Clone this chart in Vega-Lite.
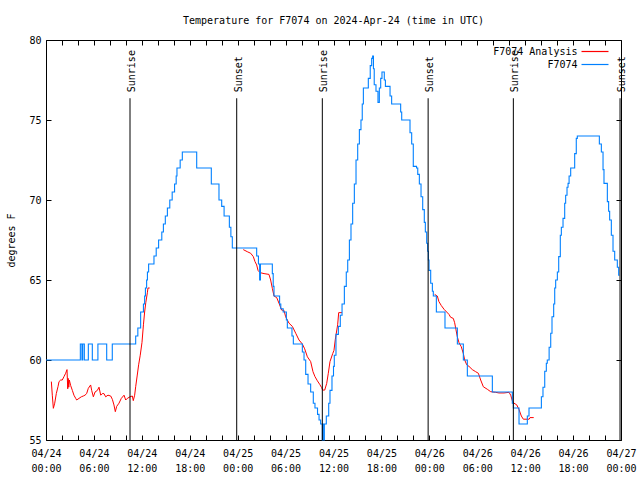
{
  "$schema": "https://vega.github.io/schema/vega-lite/v6.json",
  "width": 575,
  "height": 400,
  "autosize": {"type": "none"},
  "padding": {"left": 46, "top": 40, "right": 19, "bottom": 40},
  "background": "white",
  "title": {"text": "Temperature for F7074 on 2024-Apr-24 (time in UTC)", "font": "DejaVu Sans Mono", "fontSize": 10, "fontWeight": "normal", "color": "black", "anchor": "middle", "offset": 9},
  "config": {"view": {"stroke": null}, "font": "DejaVu Sans Mono"},
  "datasets": {
    "analysis": [
      {"series": "F7074 Analysis", "segment": 1, "hour": 0.67, "degF": 58.65},
      {"series": "F7074 Analysis", "segment": 1, "hour": 0.79, "degF": 57.8},
      {"series": "F7074 Analysis", "segment": 1, "hour": 0.92, "degF": 56.98},
      {"series": "F7074 Analysis", "segment": 1, "hour": 1.09, "degF": 57.3},
      {"series": "F7074 Analysis", "segment": 1, "hour": 1.29, "degF": 57.9},
      {"series": "F7074 Analysis", "segment": 1, "hour": 1.5, "degF": 58.33},
      {"series": "F7074 Analysis", "segment": 1, "hour": 1.63, "degF": 58.65},
      {"series": "F7074 Analysis", "segment": 1, "hour": 1.84, "degF": 58.75},
      {"series": "F7074 Analysis", "segment": 1, "hour": 2.04, "degF": 58.75},
      {"series": "F7074 Analysis", "segment": 1, "hour": 2.25, "degF": 58.96},
      {"series": "F7074 Analysis", "segment": 1, "hour": 2.46, "degF": 59.17},
      {"series": "F7074 Analysis", "segment": 1, "hour": 2.63, "degF": 59.4},
      {"series": "F7074 Analysis", "segment": 1, "hour": 2.72, "degF": 58.2},
      {"series": "F7074 Analysis", "segment": 1, "hour": 2.78, "degF": 58.85},
      {"series": "F7074 Analysis", "segment": 1, "hour": 2.85, "degF": 58.3},
      {"series": "F7074 Analysis", "segment": 1, "hour": 2.92, "degF": 58.75},
      {"series": "F7074 Analysis", "segment": 1, "hour": 3.09, "degF": 58.4},
      {"series": "F7074 Analysis", "segment": 1, "hour": 3.3, "degF": 58.1},
      {"series": "F7074 Analysis", "segment": 1, "hour": 3.5, "degF": 57.8},
      {"series": "F7074 Analysis", "segment": 1, "hour": 3.72, "degF": 57.6},
      {"series": "F7074 Analysis", "segment": 1, "hour": 3.84, "degF": 57.5},
      {"series": "F7074 Analysis", "segment": 1, "hour": 4.13, "degF": 57.6},
      {"series": "F7074 Analysis", "segment": 1, "hour": 4.42, "degF": 57.7},
      {"series": "F7074 Analysis", "segment": 1, "hour": 4.67, "degF": 57.75},
      {"series": "F7074 Analysis", "segment": 1, "hour": 4.88, "degF": 57.8},
      {"series": "F7074 Analysis", "segment": 1, "hour": 5.09, "degF": 57.9},
      {"series": "F7074 Analysis", "segment": 1, "hour": 5.3, "degF": 58.23},
      {"series": "F7074 Analysis", "segment": 1, "hour": 5.59, "degF": 58.44},
      {"series": "F7074 Analysis", "segment": 1, "hour": 5.72, "degF": 58.1},
      {"series": "F7074 Analysis", "segment": 1, "hour": 5.93, "degF": 57.7},
      {"series": "F7074 Analysis", "segment": 1, "hour": 6.14, "degF": 58.0},
      {"series": "F7074 Analysis", "segment": 1, "hour": 6.43, "degF": 58.1},
      {"series": "F7074 Analysis", "segment": 1, "hour": 6.64, "degF": 58.3},
      {"series": "F7074 Analysis", "segment": 1, "hour": 6.85, "degF": 57.8},
      {"series": "F7074 Analysis", "segment": 1, "hour": 7.05, "degF": 57.9},
      {"series": "F7074 Analysis", "segment": 1, "hour": 7.26, "degF": 57.9},
      {"series": "F7074 Analysis", "segment": 1, "hour": 7.47, "degF": 57.7},
      {"series": "F7074 Analysis", "segment": 1, "hour": 7.76, "degF": 57.8},
      {"series": "F7074 Analysis", "segment": 1, "hour": 8.1, "degF": 57.75},
      {"series": "F7074 Analysis", "segment": 1, "hour": 8.31, "degF": 57.54},
      {"series": "F7074 Analysis", "segment": 1, "hour": 8.51, "degF": 57.19},
      {"series": "F7074 Analysis", "segment": 1, "hour": 8.68, "degF": 56.77},
      {"series": "F7074 Analysis", "segment": 1, "hour": 8.85, "degF": 57.1},
      {"series": "F7074 Analysis", "segment": 1, "hour": 9.14, "degF": 57.3},
      {"series": "F7074 Analysis", "segment": 1, "hour": 9.43, "degF": 57.6},
      {"series": "F7074 Analysis", "segment": 1, "hour": 9.77, "degF": 57.8},
      {"series": "F7074 Analysis", "segment": 1, "hour": 9.98, "degF": 57.5},
      {"series": "F7074 Analysis", "segment": 1, "hour": 10.18, "degF": 57.6},
      {"series": "F7074 Analysis", "segment": 1, "hour": 10.52, "degF": 57.7},
      {"series": "F7074 Analysis", "segment": 1, "hour": 10.81, "degF": 57.75},
      {"series": "F7074 Analysis", "segment": 1, "hour": 10.93, "degF": 57.46},
      {"series": "F7074 Analysis", "segment": 1, "hour": 11.1, "degF": 57.8},
      {"series": "F7074 Analysis", "segment": 1, "hour": 11.23, "degF": 58.33},
      {"series": "F7074 Analysis", "segment": 1, "hour": 11.43, "degF": 59.06},
      {"series": "F7074 Analysis", "segment": 1, "hour": 11.6, "degF": 59.7},
      {"series": "F7074 Analysis", "segment": 1, "hour": 11.8, "degF": 60.3},
      {"series": "F7074 Analysis", "segment": 1, "hour": 12.02, "degF": 61.1},
      {"series": "F7074 Analysis", "segment": 1, "hour": 12.2, "degF": 62.2},
      {"series": "F7074 Analysis", "segment": 1, "hour": 12.35, "degF": 63.0},
      {"series": "F7074 Analysis", "segment": 1, "hour": 12.5, "degF": 63.6},
      {"series": "F7074 Analysis", "segment": 1, "hour": 12.69, "degF": 64.2},
      {"series": "F7074 Analysis", "segment": 1, "hour": 12.77, "degF": 64.5},
      {"series": "F7074 Analysis", "segment": 1, "hour": 12.98, "degF": 64.5},
      {"series": "F7074 Analysis", "segment": 2, "hour": 24.7, "degF": 66.9},
      {"series": "F7074 Analysis", "segment": 2, "hour": 25.2, "degF": 66.77},
      {"series": "F7074 Analysis", "segment": 2, "hour": 25.63, "degF": 66.67},
      {"series": "F7074 Analysis", "segment": 2, "hour": 25.96, "degF": 66.46},
      {"series": "F7074 Analysis", "segment": 2, "hour": 26.17, "degF": 66.15},
      {"series": "F7074 Analysis", "segment": 2, "hour": 26.38, "degF": 65.94},
      {"series": "F7074 Analysis", "segment": 2, "hour": 26.55, "degF": 65.6},
      {"series": "F7074 Analysis", "segment": 2, "hour": 26.8, "degF": 65.46},
      {"series": "F7074 Analysis", "segment": 2, "hour": 27.3, "degF": 65.4},
      {"series": "F7074 Analysis", "segment": 2, "hour": 27.92, "degF": 65.35},
      {"series": "F7074 Analysis", "segment": 2, "hour": 28.13, "degF": 65.0},
      {"series": "F7074 Analysis", "segment": 2, "hour": 28.34, "degF": 64.48},
      {"series": "F7074 Analysis", "segment": 2, "hour": 28.55, "degF": 64.0},
      {"series": "F7074 Analysis", "segment": 2, "hour": 28.89, "degF": 63.9},
      {"series": "F7074 Analysis", "segment": 2, "hour": 29.18, "degF": 63.54},
      {"series": "F7074 Analysis", "segment": 2, "hour": 29.51, "degF": 63.12},
      {"series": "F7074 Analysis", "segment": 2, "hour": 29.8, "degF": 63.1},
      {"series": "F7074 Analysis", "segment": 2, "hour": 30.01, "degF": 62.7},
      {"series": "F7074 Analysis", "segment": 2, "hour": 30.43, "degF": 62.3},
      {"series": "F7074 Analysis", "segment": 2, "hour": 30.85, "degF": 62.1},
      {"series": "F7074 Analysis", "segment": 2, "hour": 31.27, "degF": 61.67},
      {"series": "F7074 Analysis", "segment": 2, "hour": 31.68, "degF": 61.25},
      {"series": "F7074 Analysis", "segment": 2, "hour": 32.1, "degF": 61.0},
      {"series": "F7074 Analysis", "segment": 2, "hour": 32.39, "degF": 60.7},
      {"series": "F7074 Analysis", "segment": 2, "hour": 32.73, "degF": 60.2},
      {"series": "F7074 Analysis", "segment": 2, "hour": 33.14, "degF": 59.9},
      {"series": "F7074 Analysis", "segment": 2, "hour": 33.43, "degF": 59.27},
      {"series": "F7074 Analysis", "segment": 2, "hour": 33.68, "degF": 58.96},
      {"series": "F7074 Analysis", "segment": 2, "hour": 33.98, "degF": 58.7},
      {"series": "F7074 Analysis", "segment": 2, "hour": 34.27, "degF": 58.48},
      {"series": "F7074 Analysis", "segment": 2, "hour": 34.52, "degF": 58.27},
      {"series": "F7074 Analysis", "segment": 2, "hour": 34.64, "degF": 58.12},
      {"series": "F7074 Analysis", "segment": 2, "hour": 34.9, "degF": 58.12},
      {"series": "F7074 Analysis", "segment": 2, "hour": 35.15, "degF": 58.54},
      {"series": "F7074 Analysis", "segment": 2, "hour": 35.35, "degF": 59.17},
      {"series": "F7074 Analysis", "segment": 2, "hour": 35.56, "degF": 59.9},
      {"series": "F7074 Analysis", "segment": 2, "hour": 35.9, "degF": 60.4},
      {"series": "F7074 Analysis", "segment": 2, "hour": 36.06, "degF": 60.6},
      {"series": "F7074 Analysis", "segment": 2, "hour": 36.23, "degF": 61.3},
      {"series": "F7074 Analysis", "segment": 2, "hour": 36.52, "degF": 62.2},
      {"series": "F7074 Analysis", "segment": 2, "hour": 36.65, "degF": 62.96},
      {"series": "F7074 Analysis", "segment": 2, "hour": 37.07, "degF": 62.96},
      {"series": "F7074 Analysis", "segment": 3, "hour": 48.67, "degF": 64.1},
      {"series": "F7074 Analysis", "segment": 3, "hour": 49.0, "degF": 64.0},
      {"series": "F7074 Analysis", "segment": 3, "hour": 49.2, "degF": 63.65},
      {"series": "F7074 Analysis", "segment": 3, "hour": 49.5, "degF": 63.4},
      {"series": "F7074 Analysis", "segment": 3, "hour": 49.84, "degF": 63.17},
      {"series": "F7074 Analysis", "segment": 3, "hour": 50.17, "degF": 63.0},
      {"series": "F7074 Analysis", "segment": 3, "hour": 50.46, "degF": 62.85},
      {"series": "F7074 Analysis", "segment": 3, "hour": 50.67, "degF": 62.67},
      {"series": "F7074 Analysis", "segment": 3, "hour": 51.0, "degF": 62.6},
      {"series": "F7074 Analysis", "segment": 3, "hour": 51.17, "degF": 62.33},
      {"series": "F7074 Analysis", "segment": 3, "hour": 51.34, "degF": 61.88},
      {"series": "F7074 Analysis", "segment": 3, "hour": 51.5, "degF": 61.46},
      {"series": "F7074 Analysis", "segment": 3, "hour": 51.72, "degF": 61.08},
      {"series": "F7074 Analysis", "segment": 3, "hour": 52.0, "degF": 60.83},
      {"series": "F7074 Analysis", "segment": 3, "hour": 52.26, "degF": 60.4},
      {"series": "F7074 Analysis", "segment": 3, "hour": 52.43, "degF": 60.0},
      {"series": "F7074 Analysis", "segment": 3, "hour": 52.68, "degF": 59.7},
      {"series": "F7074 Analysis", "segment": 3, "hour": 52.97, "degF": 59.6},
      {"series": "F7074 Analysis", "segment": 3, "hour": 53.38, "degF": 59.4},
      {"series": "F7074 Analysis", "segment": 3, "hour": 53.8, "degF": 59.27},
      {"series": "F7074 Analysis", "segment": 3, "hour": 54.14, "degF": 59.17},
      {"series": "F7074 Analysis", "segment": 3, "hour": 54.43, "degF": 58.75},
      {"series": "F7074 Analysis", "segment": 3, "hour": 54.76, "degF": 58.33},
      {"series": "F7074 Analysis", "segment": 3, "hour": 55.26, "degF": 58.17},
      {"series": "F7074 Analysis", "segment": 3, "hour": 55.68, "degF": 58.02},
      {"series": "F7074 Analysis", "segment": 3, "hour": 56.3, "degF": 57.98},
      {"series": "F7074 Analysis", "segment": 3, "hour": 56.72, "degF": 57.94},
      {"series": "F7074 Analysis", "segment": 3, "hour": 57.35, "degF": 57.94},
      {"series": "F7074 Analysis", "segment": 3, "hour": 57.98, "degF": 57.98},
      {"series": "F7074 Analysis", "segment": 3, "hour": 58.19, "degF": 57.8},
      {"series": "F7074 Analysis", "segment": 3, "hour": 58.39, "degF": 57.46},
      {"series": "F7074 Analysis", "segment": 3, "hour": 58.6, "degF": 57.3},
      {"series": "F7074 Analysis", "segment": 3, "hour": 58.94, "degF": 57.2},
      {"series": "F7074 Analysis", "segment": 3, "hour": 59.23, "degF": 56.9},
      {"series": "F7074 Analysis", "segment": 3, "hour": 59.52, "degF": 56.5},
      {"series": "F7074 Analysis", "segment": 3, "hour": 59.77, "degF": 56.3},
      {"series": "F7074 Analysis", "segment": 3, "hour": 60.5, "degF": 56.3},
      {"series": "F7074 Analysis", "segment": 3, "hour": 60.6, "degF": 56.4},
      {"series": "F7074 Analysis", "segment": 3, "hour": 61.07, "degF": 56.4}
    ],
    "obs": [
      {"series": "F7074", "hour": 0, "degF": 60},
      {"series": "F7074", "hour": 4.3, "degF": 61},
      {"series": "F7074", "hour": 4.5, "degF": 60},
      {"series": "F7074", "hour": 4.6, "degF": 61},
      {"series": "F7074", "hour": 4.8, "degF": 60},
      {"series": "F7074", "hour": 5.3, "degF": 61},
      {"series": "F7074", "hour": 5.8, "degF": 60},
      {"series": "F7074", "hour": 6.5, "degF": 61},
      {"series": "F7074", "hour": 7.6, "degF": 60},
      {"series": "F7074", "hour": 8.3, "degF": 61},
      {"series": "F7074", "hour": 11.23, "degF": 61.5},
      {"series": "F7074", "hour": 11.5, "degF": 62},
      {"series": "F7074", "hour": 11.85, "degF": 63},
      {"series": "F7074", "hour": 12.2, "degF": 63.5},
      {"series": "F7074", "hour": 12.35, "degF": 64},
      {"series": "F7074", "hour": 12.45, "degF": 64.5},
      {"series": "F7074", "hour": 12.6, "degF": 65},
      {"series": "F7074", "hour": 12.7, "degF": 65.5},
      {"series": "F7074", "hour": 12.85, "degF": 66},
      {"series": "F7074", "hour": 13.52, "degF": 66.5},
      {"series": "F7074", "hour": 13.8, "degF": 67},
      {"series": "F7074", "hour": 14.1, "degF": 67.5},
      {"series": "F7074", "hour": 14.5, "degF": 68},
      {"series": "F7074", "hour": 14.7, "degF": 68.5},
      {"series": "F7074", "hour": 14.94, "degF": 69},
      {"series": "F7074", "hour": 15.2, "degF": 69.5},
      {"series": "F7074", "hour": 15.5, "degF": 70},
      {"series": "F7074", "hour": 15.8, "degF": 70.5},
      {"series": "F7074", "hour": 16.1, "degF": 71},
      {"series": "F7074", "hour": 16.3, "degF": 71.5},
      {"series": "F7074", "hour": 16.4, "degF": 72},
      {"series": "F7074", "hour": 16.8, "degF": 72.5},
      {"series": "F7074", "hour": 17.07, "degF": 73},
      {"series": "F7074", "hour": 18.87, "degF": 72},
      {"series": "F7074", "hour": 20.7, "degF": 71},
      {"series": "F7074", "hour": 21.66, "degF": 70},
      {"series": "F7074", "hour": 22.0, "degF": 69.6},
      {"series": "F7074", "hour": 22.3, "degF": 69},
      {"series": "F7074", "hour": 22.96, "degF": 68.3},
      {"series": "F7074", "hour": 23.15, "degF": 67.7},
      {"series": "F7074", "hour": 23.33, "degF": 67},
      {"series": "F7074", "hour": 26.38, "degF": 66.5},
      {"series": "F7074", "hour": 26.6, "degF": 66},
      {"series": "F7074", "hour": 26.75, "degF": 65},
      {"series": "F7074", "hour": 26.85, "degF": 66},
      {"series": "F7074", "hour": 28.34, "degF": 65.4},
      {"series": "F7074", "hour": 28.45, "degF": 64.6},
      {"series": "F7074", "hour": 28.55, "degF": 64},
      {"series": "F7074", "hour": 29.25, "degF": 63.5},
      {"series": "F7074", "hour": 29.4, "degF": 63.2},
      {"series": "F7074", "hour": 29.7, "degF": 63},
      {"series": "F7074", "hour": 30.1, "degF": 62.5},
      {"series": "F7074", "hour": 30.22, "degF": 62},
      {"series": "F7074", "hour": 30.8, "degF": 61.5},
      {"series": "F7074", "hour": 30.97, "degF": 61},
      {"series": "F7074", "hour": 32.1, "degF": 60.5},
      {"series": "F7074", "hour": 32.31, "degF": 60},
      {"series": "F7074", "hour": 32.52, "degF": 59.1},
      {"series": "F7074", "hour": 32.81, "degF": 58.5},
      {"series": "F7074", "hour": 33.14, "degF": 58},
      {"series": "F7074", "hour": 33.47, "degF": 57.3},
      {"series": "F7074", "hour": 33.68, "degF": 57},
      {"series": "F7074", "hour": 34.0, "degF": 56.6},
      {"series": "F7074", "hour": 34.19, "degF": 56.25},
      {"series": "F7074", "hour": 34.39, "degF": 56},
      {"series": "F7074", "hour": 34.6, "degF": 55},
      {"series": "F7074", "hour": 34.65, "degF": 56},
      {"series": "F7074", "hour": 34.8, "degF": 55},
      {"series": "F7074", "hour": 34.85, "degF": 56},
      {"series": "F7074", "hour": 35.1, "degF": 56.5},
      {"series": "F7074", "hour": 35.4, "degF": 57.3},
      {"series": "F7074", "hour": 35.56, "degF": 58.1},
      {"series": "F7074", "hour": 35.81, "degF": 59},
      {"series": "F7074", "hour": 36.0, "degF": 59.6},
      {"series": "F7074", "hour": 36.1, "degF": 60.3},
      {"series": "F7074", "hour": 36.31, "degF": 61.6},
      {"series": "F7074", "hour": 36.61, "degF": 62.1},
      {"series": "F7074", "hour": 36.85, "degF": 62.8},
      {"series": "F7074", "hour": 37.07, "degF": 63.5},
      {"series": "F7074", "hour": 37.36, "degF": 64.6},
      {"series": "F7074", "hour": 37.6, "degF": 65.5},
      {"series": "F7074", "hour": 37.78, "degF": 66.25},
      {"series": "F7074", "hour": 37.99, "degF": 67.5},
      {"series": "F7074", "hour": 38.19, "degF": 68.5},
      {"series": "F7074", "hour": 38.4, "degF": 69.8},
      {"series": "F7074", "hour": 38.61, "degF": 71.0},
      {"series": "F7074", "hour": 38.82, "degF": 72.5},
      {"series": "F7074", "hour": 39.03, "degF": 73.5},
      {"series": "F7074", "hour": 39.24, "degF": 74.4},
      {"series": "F7074", "hour": 39.44, "degF": 75.0},
      {"series": "F7074", "hour": 39.6, "degF": 76.0},
      {"series": "F7074", "hour": 39.74, "degF": 77.0},
      {"series": "F7074", "hour": 40.36, "degF": 77.6},
      {"series": "F7074", "hour": 40.6, "degF": 78.4},
      {"series": "F7074", "hour": 40.78, "degF": 78.85},
      {"series": "F7074", "hour": 40.9, "degF": 79.0},
      {"series": "F7074", "hour": 41.0, "degF": 78.2},
      {"series": "F7074", "hour": 41.1, "degF": 77.2},
      {"series": "F7074", "hour": 41.32, "degF": 76.8},
      {"series": "F7074", "hour": 41.57, "degF": 76.1},
      {"series": "F7074", "hour": 41.74, "degF": 77.0},
      {"series": "F7074", "hour": 41.91, "degF": 77.6},
      {"series": "F7074", "hour": 42.07, "degF": 78.0},
      {"series": "F7074", "hour": 42.36, "degF": 77.5},
      {"series": "F7074", "hour": 42.5, "degF": 77.1},
      {"series": "F7074", "hour": 43.08, "degF": 76.5},
      {"series": "F7074", "hour": 43.28, "degF": 76.0},
      {"series": "F7074", "hour": 44.41, "degF": 75.5},
      {"series": "F7074", "hour": 44.54, "degF": 75.0},
      {"series": "F7074", "hour": 45.58, "degF": 74.2},
      {"series": "F7074", "hour": 45.79, "degF": 73.5},
      {"series": "F7074", "hour": 45.99, "degF": 72.1},
      {"series": "F7074", "hour": 46.4, "degF": 72.0},
      {"series": "F7074", "hour": 46.55, "degF": 71.6},
      {"series": "F7074", "hour": 46.75, "degF": 71.0},
      {"series": "F7074", "hour": 46.96, "degF": 70.2},
      {"series": "F7074", "hour": 47.17, "degF": 69.4},
      {"series": "F7074", "hour": 47.37, "degF": 68.6},
      {"series": "F7074", "hour": 47.5, "degF": 68.0},
      {"series": "F7074", "hour": 47.67, "degF": 67.3},
      {"series": "F7074", "hour": 47.79, "degF": 66.8},
      {"series": "F7074", "hour": 47.88, "degF": 66.25},
      {"series": "F7074", "hour": 47.96, "degF": 65.6},
      {"series": "F7074", "hour": 48.17, "degF": 64.8},
      {"series": "F7074", "hour": 48.38, "degF": 64.3},
      {"series": "F7074", "hour": 48.5, "degF": 64.0},
      {"series": "F7074", "hour": 48.88, "degF": 63.0},
      {"series": "F7074", "hour": 49.96, "degF": 62.0},
      {"series": "F7074", "hour": 51.51, "degF": 61.0},
      {"series": "F7074", "hour": 52.26, "degF": 60.0},
      {"series": "F7074", "hour": 52.76, "degF": 59.0},
      {"series": "F7074", "hour": 55.89, "degF": 58.0},
      {"series": "F7074", "hour": 58.39, "degF": 57.3},
      {"series": "F7074", "hour": 58.52, "degF": 57.0},
      {"series": "F7074", "hour": 59.23, "degF": 56.0},
      {"series": "F7074", "hour": 60.27, "degF": 56.5},
      {"series": "F7074", "hour": 60.48, "degF": 57.0},
      {"series": "F7074", "hour": 62.03, "degF": 57.7},
      {"series": "F7074", "hour": 62.23, "degF": 58.3},
      {"series": "F7074", "hour": 62.45, "degF": 59.3},
      {"series": "F7074", "hour": 62.65, "degF": 59.8},
      {"series": "F7074", "hour": 62.77, "degF": 60.0},
      {"series": "F7074", "hour": 63.0, "degF": 60.8},
      {"series": "F7074", "hour": 63.2, "degF": 61.67},
      {"series": "F7074", "hour": 63.36, "degF": 62.7},
      {"series": "F7074", "hour": 63.57, "degF": 63.5},
      {"series": "F7074", "hour": 63.7, "degF": 64.5},
      {"series": "F7074", "hour": 63.82, "degF": 65.0},
      {"series": "F7074", "hour": 64.03, "degF": 65.5},
      {"series": "F7074", "hour": 64.2, "degF": 66.46},
      {"series": "F7074", "hour": 64.4, "degF": 67.8},
      {"series": "F7074", "hour": 64.53, "degF": 68.3},
      {"series": "F7074", "hour": 64.74, "degF": 68.85},
      {"series": "F7074", "hour": 64.95, "degF": 69.8},
      {"series": "F7074", "hour": 65.07, "degF": 70.3},
      {"series": "F7074", "hour": 65.24, "degF": 70.8},
      {"series": "F7074", "hour": 65.37, "degF": 71.04},
      {"series": "F7074", "hour": 65.5, "degF": 71.5},
      {"series": "F7074", "hour": 65.7, "degF": 72.0},
      {"series": "F7074", "hour": 66.2, "degF": 72.9},
      {"series": "F7074", "hour": 66.4, "degF": 73.85},
      {"series": "F7074", "hour": 66.53, "degF": 74.0},
      {"series": "F7074", "hour": 69.29, "degF": 73.5},
      {"series": "F7074", "hour": 69.54, "degF": 73.0},
      {"series": "F7074", "hour": 69.75, "degF": 71.9},
      {"series": "F7074", "hour": 69.87, "degF": 71.04},
      {"series": "F7074", "hour": 70.29, "degF": 69.9},
      {"series": "F7074", "hour": 70.45, "degF": 69.3},
      {"series": "F7074", "hour": 70.58, "degF": 68.75},
      {"series": "F7074", "hour": 70.79, "degF": 67.8},
      {"series": "F7074", "hour": 71.0, "degF": 66.8},
      {"series": "F7074", "hour": 71.21, "degF": 66.25},
      {"series": "F7074", "hour": 71.54, "degF": 65.8},
      {"series": "F7074", "hour": 71.71, "degF": 65.3},
      {"series": "F7074", "hour": 71.8, "degF": 65.3}
    ],
    "events": [
      {"event": "Sunrise", "hour": 10.52},
      {"event": "Sunset", "hour": 23.88},
      {"event": "Sunrise", "hour": 34.6},
      {"event": "Sunset", "hour": 47.85},
      {"event": "Sunrise", "hour": 58.52},
      {"event": "Sunset", "hour": 71.88}
    ]
  },
  "layer": [
    {
      "data": {"name": "analysis"},
      "mark": {"type": "line", "strokeWidth": 1, "interpolate": "linear"},
      "encoding": {
        "x": {"field": "hour", "type": "quantitative", "scale": {"domain": [0, 72], "nice": false, "zero": false},
          "axis": {"orient": "bottom", "title": null, "grid": false, "ticks": false,
            "values": [0, 6, 12, 18, 24, 30, 36, 42, 48, 54, 60, 66, 72],
            "labelExpr": "['04/' + (24 + floor(datum.value / 24)), (datum.value % 24 < 10 ? '0' : '') + (datum.value % 24) + ':00']",
            "labelPadding": 8, "labelFlush": false, "labelOverlap": false, "labelBound": false,
            "labelFont": "DejaVu Sans Mono", "labelFontSize": 10, "labelColor": "black", "labelLineHeight": 15,
            "domainColor": "black", "domainWidth": 1}},
        "y": {"field": "degF", "type": "quantitative", "scale": {"domain": [55, 80], "nice": false, "zero": false},
          "axis": {"orient": "left", "title": "degrees F", "grid": false, "ticks": false, "values": [55, 60, 65, 70, 75, 80],
            "labelPadding": 5, "labelFont": "DejaVu Sans Mono", "labelFontSize": 10, "labelColor": "black",
            "titleFont": "DejaVu Sans Mono", "titleFontSize": 10, "titleFontWeight": "normal", "titleColor": "black", "titlePadding": 12,
            "domainColor": "black", "labelFlush": false}},
        "color": {"field": "series", "type": "nominal",
          "scale": {"domain": ["F7074 Analysis", "F7074"], "range": ["#ff0000", "#0080ff"]},
          "legend": {"orient": "none", "legendX": 541.5, "legendY": 4, "title": null, "symbolType": "M-2,0H2", "symbolSize": 182,
            "symbolStrokeWidth": 1.2, "labelAlign": "right", "labelOffset": -25, "labelFont": "DejaVu Sans Mono",
            "labelFontSize": 10, "labelColor": "black", "rowPadding": -1, "labelLimit": 200}},
        "detail": {"field": "segment", "type": "nominal"}
      }
    },
    {
      "data": {"name": "obs"},
      "mark": {"type": "line", "strokeWidth": 1.1, "interpolate": "step-after"},
      "encoding": {
        "x": {"field": "hour", "type": "quantitative",
          "axis": {"orient": "top", "title": null, "grid": false, "labels": false, "ticks": false, "values": [0, 72],
            "domainColor": "black"}},
        "y": {"field": "degF", "type": "quantitative",
          "axis": {"orient": "right", "title": null, "grid": false, "labels": false, "ticks": false, "values": [55, 80],
            "domainColor": "black"}},
        "color": {"field": "series", "type": "nominal"}
      }
    },
    {
      "data": {"name": "events"},
      "mark": {"type": "rule", "color": "black", "strokeWidth": 1},
      "encoding": {
        "x": {"field": "hour", "type": "quantitative",
          "axis": {"orient": "bottom", "title": null, "grid": false, "labels": false, "domain": false, "ticks": true,
            "values": [0,2,4,6,8,10,12,14,16,18,20,22,24,26,28,30,32,34,36,38,40,42,44,46,48,50,52,54,56,58,60,62,64,66,68,70,72],
            "tickSize": 5, "offset": -5, "tickColor": "black", "tickWidth": 1}},
        "y": {"datum": 76.36, "type": "quantitative",
          "axis": {"orient": "left", "title": null, "grid": false, "labels": false, "domain": false, "ticks": true,
            "values": [55, 60, 65, 70, 75, 80], "tickSize": 5, "offset": -5, "tickColor": "black", "tickWidth": 1}},
        "y2": {"datum": 55}
      }
    },
    {
      "data": {"name": "events"},
      "mark": {"type": "text", "angle": 270, "align": "left", "baseline": "middle", "dx": 6, "dy": 2, "font": "DejaVu Sans Mono", "fontSize": 10, "color": "black"},
      "encoding": {
        "x": {"field": "hour", "type": "quantitative",
          "axis": {"orient": "top", "title": null, "grid": false, "labels": false, "domain": false, "ticks": true,
            "values": [0,2,4,6,8,10,12,14,16,18,20,22,24,26,28,30,32,34,36,38,40,42,44,46,48,50,52,54,56,58,60,62,64,66,68,70,72],
            "tickSize": 5, "offset": -5, "tickColor": "black", "tickWidth": 1}},
        "y": {"datum": 76.36, "type": "quantitative",
          "axis": {"orient": "right", "title": null, "grid": false, "labels": false, "domain": false, "ticks": true,
            "values": [55, 60, 65, 70, 75, 80], "tickSize": 5, "offset": -5, "tickColor": "black", "tickWidth": 1}},
        "text": {"field": "event"}
      }
    }
  ],
  "resolve": {"axis": {"x": "independent", "y": "independent"}}
}
